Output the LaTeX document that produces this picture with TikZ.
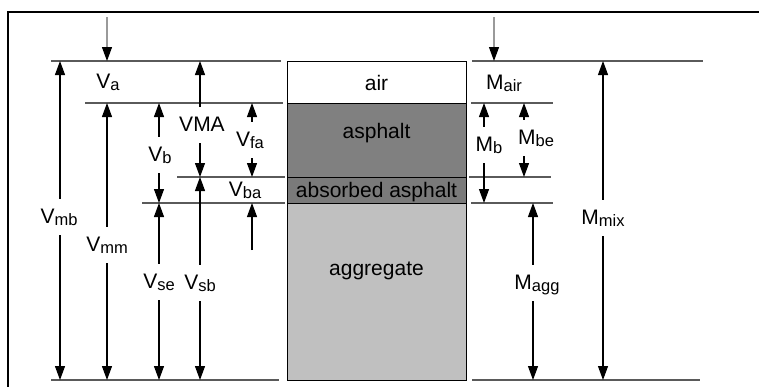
\documentclass[tikz,border=0pt]{standalone}
\usepackage{fontspec}
\setmainfont{Liberation Sans}
\usetikzlibrary{arrows.meta}
\definecolor{asph}{HTML}{808080}
\definecolor{absasph}{HTML}{7A7A7A}
\definecolor{aggr}{HTML}{C0C0C0}
\definecolor{hline}{HTML}{5A5A5A}
\definecolor{garrow}{HTML}{9A9A9A}
\newcommand\subtxt[1]{\raisebox{-2pt}{\fontsize{16.5}{18}\selectfont #1}}
\begin{document}
\begin{tikzpicture}[x=1pt,y=-1pt,
  hl/.style={draw=hline, line width=1.3pt},
  dimarrow/.style={draw=black, line width=1.1pt, -{Triangle[length=14pt,width=10pt]}},
  feed/.style={draw=garrow, line width=1.1pt, -{Triangle[length=14pt,width=10pt,color=black]}},
  lab/.style={font=\fontsize{21}{24}\selectfont, inner sep=0pt, text height=24pt, text depth=12pt, anchor=base},
  boxtxt/.style={font=\fontsize{21}{24}\selectfont, inner sep=0pt, anchor=base},
  layer/.style={draw=black, line width=0.9pt}]
\useasboundingbox (0,0) rectangle (759,386);
% frame
\draw[line width=2pt] (8,390) -- (8,12) -- (765,12);
% horizontal lines left
\draw[hl] (51,61) -- (281,61);
\draw[hl] (85,103) -- (283,103);
\draw[hl] (177,177) -- (285,177);
\draw[hl] (142,203) -- (285,203);
\draw[hl] (51,380) -- (279,380);
% horizontal lines right
\draw[hl] (472,61) -- (703,61);
\draw[hl] (471,103) -- (553,103);
\draw[hl] (469,177) -- (551,177);
\draw[hl] (471,203) -- (553,203);
\draw[hl] (472,380) -- (700,380);
% column
\filldraw[layer, fill=white] (287,61) rectangle (466,103);
\filldraw[layer, fill=asph] (287,103) rectangle (466,177);
\filldraw[layer, fill=absasph] (287,177) rectangle (466,203);
\filldraw[layer, fill=aggr] (287,203) rectangle (466,380);
\node[boxtxt] (tair) at (376.5,90) {air};
\node[boxtxt] (tasph) at (376.5,138) {asphalt};
\node[boxtxt] (tabs) at (376.5,197) {absorbed asphalt};
\node[boxtxt] (tagg) at (376.5,275) {aggregate};
% coordinates on lines
\coordinate (fa0) at (107,17); \coordinate (fa1) at (107,61);
\coordinate (fm0) at (494,17); \coordinate (fm1) at (494,61);
\coordinate (mbT) at (60,61);  \coordinate (mbB) at (60,380);
\coordinate (mmT) at (107,103); \coordinate (mmB) at (107,380);
\coordinate (bT) at (159,103); \coordinate (bB) at (159,203);
\coordinate (seT) at (159,203); \coordinate (seB) at (159,380);
\coordinate (vmaT) at (200,61); \coordinate (vmaB) at (200,177);
\coordinate (sbT) at (200,177); \coordinate (sbB) at (200,380);
\coordinate (faT) at (252,103); \coordinate (faB) at (252,177);
\coordinate (ba0) at (252,250); \coordinate (ba1) at (252,203);
\coordinate (MbT) at (484,103); \coordinate (MbB) at (484,203);
\coordinate (MbeT) at (524,103); \coordinate (MbeB) at (524,177);
\coordinate (MaggT) at (533,203); \coordinate (MaggB) at (533,380);
\coordinate (MmixT) at (603,61); \coordinate (MmixB) at (603,380);
% feed arrows
\draw[feed] (fa0) -- (fa1);
\draw[feed] (fm0) -- (fm1);
% labels
\node[lab] (Va) at (108,88) {V\subtxt{a}};
\node[lab] (Vmb) at (59,223) {V\subtxt{mb}};
\node[lab] (Vmm) at (107,251) {V\subtxt{mm}};
\node[lab] (Vb) at (160,161) {V\subtxt{b}};
\node[lab] (Vse) at (159,288) {V\subtxt{se}};
\node[lab] (VMA) at (202,131) {VMA};
\node[lab] (Vsb) at (200,289) {V\subtxt{sb}};
\node[lab] (Vfa) at (250,146) {V\subtxt{fa}};
\node[lab] (Vba) at (245,196) {V\subtxt{ba}};
\node[lab] (Mair) at (504,89) {M\subtxt{air}};
\node[lab] (Mb) at (489,151) {M\subtxt{b}};
\node[lab] (Mbe) at (536,144) {M\subtxt{be}};
\node[lab] (Magg) at (537,289) {M\subtxt{agg}};
\node[lab] (Mmix) at (603,224) {M\subtxt{mix}};
% dimension arrows
\draw[dimarrow] (Vmb.north -| mbT) -- (mbT);
\draw[dimarrow] (Vmb.south -| mbB) -- (mbB);
\draw[dimarrow] (Vmm.north -| mmT) -- (mmT);
\draw[dimarrow] (Vmm.south -| mmB) -- (mmB);
\draw[dimarrow] (Vb.north -| bT) -- (bT);
\draw[dimarrow] (Vb.south -| bB) -- (bB);
\draw[dimarrow] (Vse.north -| seT) -- (seT);
\draw[dimarrow] (Vse.south -| seB) -- (seB);
\draw[dimarrow] (VMA.north -| vmaT) -- (vmaT);
\draw[dimarrow] (VMA.south -| vmaB) -- (vmaB);
\draw[dimarrow] (Vsb.north -| sbT) -- (sbT);
\draw[dimarrow] (Vsb.south -| sbB) -- (sbB);
\draw[dimarrow] (Vfa.north -| faT) -- (faT);
\draw[dimarrow] (Vfa.south -| faB) -- (faB);
\draw[dimarrow] (ba0) -- (ba1);
\draw[dimarrow] (Mb.north -| MbT) -- (MbT);
\draw[dimarrow] (Mb.south -| MbB) -- (MbB);
\draw[dimarrow] (Mbe.north -| MbeT) -- (MbeT);
\draw[dimarrow] (Mbe.south -| MbeB) -- (MbeB);
\draw[dimarrow] (Magg.north -| MaggT) -- (MaggT);
\draw[dimarrow] (Magg.south -| MaggB) -- (MaggB);
\draw[dimarrow] (Mmix.north -| MmixT) -- (MmixT);
\draw[dimarrow] (Mmix.south -| MmixB) -- (MmixB);
\end{tikzpicture}
\end{document}
